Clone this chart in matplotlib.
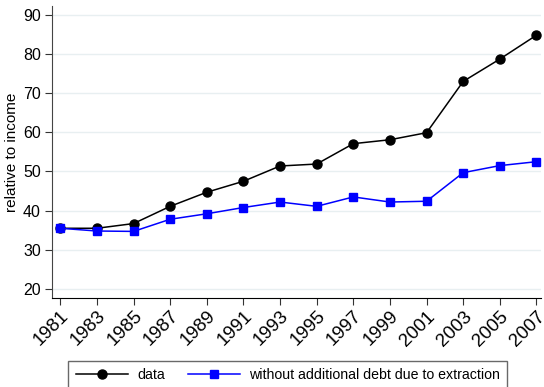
import matplotlib.pyplot as plt

plt.rcParams['font.family'] = ['Liberation Sans', 'DejaVu Sans']

years = [1981, 1983, 1985, 1987, 1989, 1991, 1993, 1995, 1997, 1999, 2001, 2003, 2005, 2007]
debt_data = [35.5, 35.5, 36.7, 41.1, 44.7, 47.5, 51.4, 51.9, 57.1, 58.1, 59.9, 73.0, 78.7, 84.8]
debt_no_extraction = [35.5, 34.8, 34.7, 37.8, 39.2, 40.8, 42.2, 41.1, 43.5, 42.2, 42.4, 49.7, 51.5, 52.5]
yticks = [20, 30, 40, 50, 60, 70, 80, 90]

fig = plt.figure(figsize=(5.44, 3.87), dpi=100)
ax = fig.add_axes([0.0956, 0.230, 0.899, 0.754])

ax.plot(years, debt_data, color='black', lw=1.1, marker='o', ms=6.5, label='data')
ax.plot(years, debt_no_extraction, color='#0000ff', lw=1.1, marker='s', ms=5.5,
        label='without additional debt due to extraction')

ax.set_xlim(1980.55, 2007.25)
ax.set_ylim(17.7, 92.2)
ax.set_xticks(years)
ax.set_xticklabels([str(y) for y in years], rotation=45, ha='right', rotation_mode='anchor', fontsize=13.5)
ax.set_yticks(yticks)
ax.tick_params(axis='y', labelsize=11.5, length=5, width=0.8, pad=3, colors='#333333', labelcolor='black')
ax.tick_params(axis='x', length=5, width=0.8, pad=2, colors='#333333', labelcolor='black')
ax.set_ylabel('relative to income', fontsize=11)
ax.yaxis.set_label_coords(-0.068, 0.5)
ax.grid(axis='y', color='#e8eff1', lw=1.0)
ax.set_axisbelow(True)

for side in ['top', 'right']:
    ax.spines[side].set_visible(False)
ax.spines['left'].set_color('#444444')
ax.spines['bottom'].set_color('black')

fig.legend(loc='upper center', bbox_to_anchor=(0.529, 0.067), ncol=2, frameon=True,
           fancybox=False, edgecolor='#444444', fontsize=10.2, handlelength=3.7,
           handletextpad=0.65, columnspacing=1.6, borderpad=0.5, borderaxespad=0)

fig.savefig('out.png', dpi=100)
